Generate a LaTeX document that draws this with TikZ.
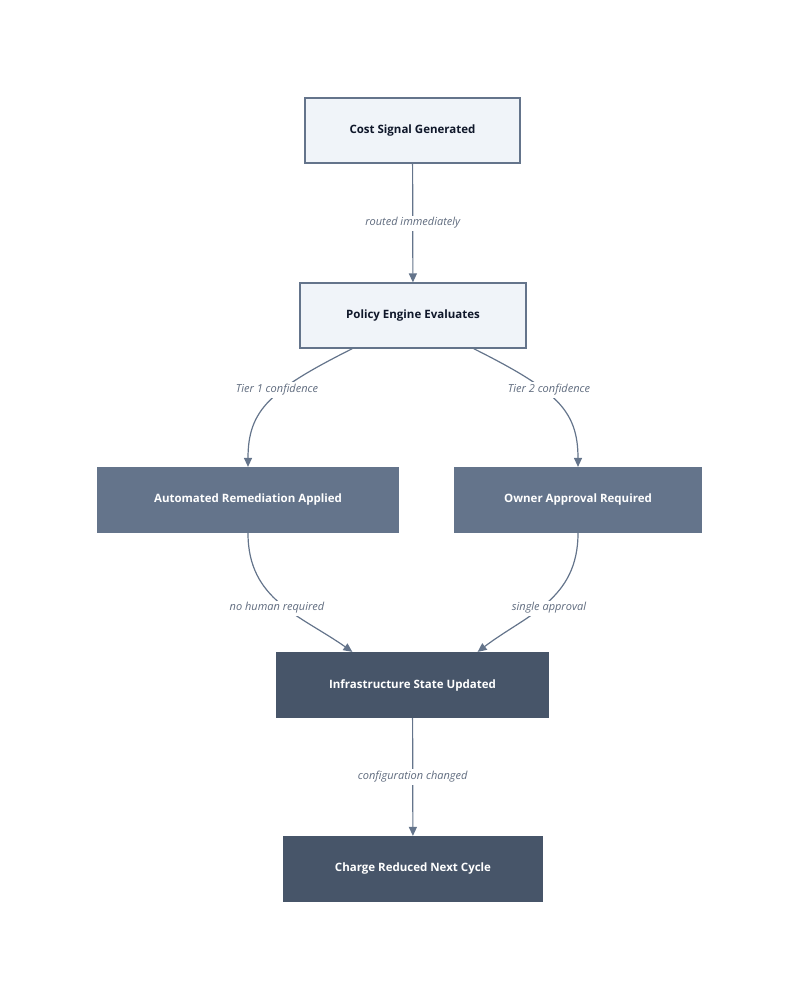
\documentclass[tikz,border=0pt]{standalone}
\usepackage{fontspec}
\setmainfont{Open Sans}
\usetikzlibrary{arrows.meta}
\definecolor{lightfill}{HTML}{F0F4F9}
\definecolor{edge}{HTML}{64748B}
\definecolor{midfill}{HTML}{64748B}
\definecolor{darkfill}{HTML}{475569}
\definecolor{labc}{HTML}{5F6B7E}
\definecolor{txt}{HTML}{0F172A}
\begin{document}
\begin{tikzpicture}[x=1pt,y=-1pt,
  box/.style={draw=edge,line width=1.2pt,minimum height=65pt,font=\bfseries\fontsize{11.5}{14}\selectfont,inner sep=0pt},
  light/.style={box,fill=lightfill,text=txt},
  mid/.style={box,fill=midfill,draw=midfill,text=white},
  dark/.style={box,fill=darkfill,draw=darkfill,text=white},
  conn/.style={draw=edge,line width=1.2pt,-{Triangle[length=9pt,width=8pt]}},
  lab/.style={fill=white,text=labc,font=\itshape\fontsize{11}{13}\selectfont,inner sep=2pt}]
\useasboundingbox (0,0) rectangle (800,1001);
\node[light,minimum width=215pt] (cs) at (412.5,130.5) {Cost Signal Generated};
\node[light,minimum width=226pt] (pe) at (413,315.5) {Policy Engine Evaluates};
\node[mid,minimum width=300pt] (ar) at (248,500) {Automated Remediation Applied};
\node[mid,minimum width=246pt] (oa) at (578,500) {Owner Approval Required};
\node[dark,minimum width=271pt] (is) at (412.5,685) {Infrastructure State Updated};
\node[dark,minimum width=258pt] (cr) at (413,869) {Charge Reduced Next Cycle};
\draw[conn] (cs) -- node[lab]{routed immediately} (pe);
\draw[conn] ([xshift=53pt]pe.south west) .. controls (270,390) and (248,410) .. (ar.north);
\node[lab] at (277,390) {Tier 1 confidence};
\draw[conn] ([xshift=-53pt]pe.south east) .. controls (556,390) and (578,410) .. (oa.north);
\node[lab] at (549,390) {Tier 2 confidence};
\draw[conn] (ar.south) .. controls (248,600) and (300,615) .. ([xshift=76pt]is.north west);
\node[lab] at (277,608) {no human required};
\draw[conn] (oa.south) .. controls (578,600) and (526,615) .. ([xshift=-71pt]is.north east);
\node[lab] at (549,608) {single approval};
\draw[conn] (is) -- node[lab]{configuration changed} (cr);
\end{tikzpicture}
\end{document}
